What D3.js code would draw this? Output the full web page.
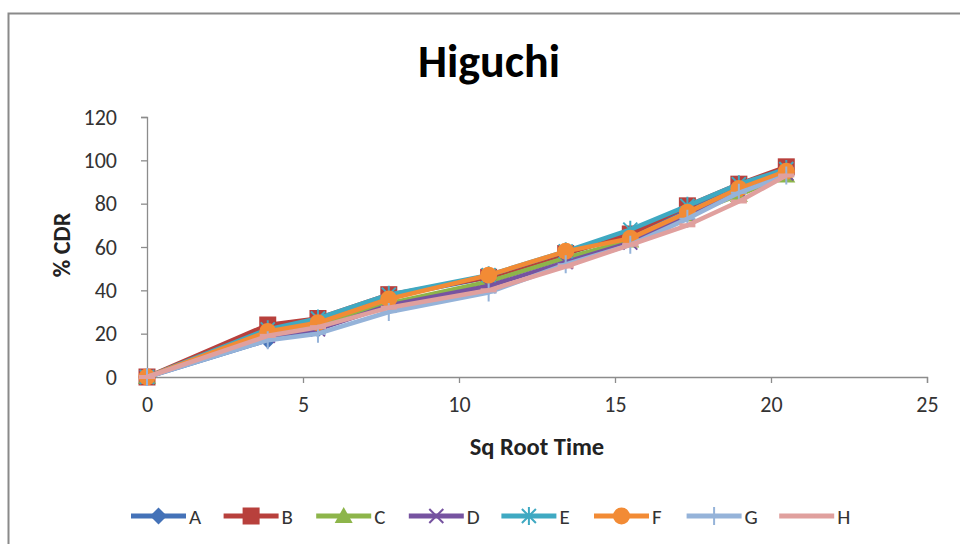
<!DOCTYPE html>
<html><head><meta charset="utf-8">
<script src="https://cdn.jsdelivr.net/npm/d3@7"></script>
<style>body{margin:0;background:#fff}svg{display:block}text{font-family:Carlito,Lato,"Liberation Sans",sans-serif}</style>
</head><body><svg id="c" width="960" height="544"></svg>
<script>
const xValues = [0, 3.87, 5.48, 7.75, 10.95, 13.42, 15.49, 17.32, 18.97, 20.49];
const seriesNames = ["A","B","C","D","E","F","G","H"];
const valsA = [0, 17, 22, 37, 46, 57, 66, 78, 89, 96];
const valsB = [0, 24, 27, 38, 46, 57, 66, 79, 89, 97];
const valsC = [0, 21, 24, 34, 44, 55, 63, 75, 84, 93];
const valsD = [0, 19, 22, 33, 42, 53, 62, 75, 86, 94];
const valsE = [0, 22, 27, 38, 47, 58, 68, 79, 89, 96];
const valsF = [0, 21, 25, 36, 47, 58, 64, 76, 87, 95];
const valsG = [0, 17, 20, 30, 39, 52, 61, 73, 85, 93];
const valsH = [0, 19, 23, 32, 40, 51, 61, 70, 81, 93];
const xTicks = [0, 5, 10, 15, 20, 25];
const yTicks = [0, 20, 40, 60, 80, 100, 120];
const colors = ["#4472B8","#B8403C","#8DB54A","#7653A0","#3FA9C2","#F28B35","#95B3D9","#E0A09E"];
const markers = ["diamond","square","triangle","x","star","circle","plus","dash"];
const allVals = [valsA,valsB,valsC,valsD,valsE,valsF,valsG,valsH];

const svg = d3.select("#c");
svg.append("path").attr("d","M8.5,544 L8.5,13.5 L960,13.5").attr("fill","none").attr("stroke","#8a8a8a").attr("stroke-width",2);

const x = d3.scaleLinear().domain([0,25]).range([147,927]);
const y = d3.scaleLinear().domain([0,120]).range([377,117]);

const axColor = "#8c8c8c";
const gx = svg.append("g").attr("transform","translate(0,377)")
  .call(d3.axisBottom(x).tickValues(xTicks).tickSize(6).tickPadding(8).tickFormat(d3.format("d")));
const gy = svg.append("g").attr("transform","translate(147,0)")
  .call(d3.axisLeft(y).tickValues(yTicks).tickSize(6).tickPadding(24).tickFormat(d3.format("d")));
[gx,gy].forEach(g=>{
  g.select(".domain").attr("stroke",axColor).attr("stroke-width",1.3);
  g.selectAll(".tick line").attr("stroke",axColor).attr("stroke-width",1.3);
  g.selectAll(".tick text").attr("fill","#333").style("font-size","22px");
});
gx.selectAll(".tick text").attr("dy","0.95em");
gy.selectAll(".tick text").attr("dx","0");

svg.append("text").attr("x",489).attr("y",77).attr("text-anchor","middle")
  .style("font-size","46px").style("font-weight","bold").attr("fill","#000").text("Higuchi");
svg.append("text").attr("x",537).attr("y",455).attr("text-anchor","middle")
  .style("font-size","24.5px").style("font-weight","bold").attr("fill","#222").text("Sq Root Time");
svg.append("text").attr("transform","translate(70,245) rotate(-90)").attr("text-anchor","middle")
  .style("font-size","24px").style("font-weight","bold").attr("fill","#222").text("% CDR");

function drawMarker(g, type, cx, cy, color){
  const s = 8.5;
  if(type==="diamond"){
    g.append("path").attr("d",`M${cx},${cy-s} L${cx+s},${cy} L${cx},${cy+s} L${cx-s},${cy} Z`).attr("fill",color);
  } else if(type==="square"){
    g.append("rect").attr("x",cx-8.5).attr("y",cy-8.5).attr("width",17).attr("height",17).attr("fill",color);
  } else if(type==="triangle"){
    g.append("path").attr("d",`M${cx},${cy-9} L${cx+9},${cy+7} L${cx-9},${cy+7} Z`).attr("fill",color);
  } else if(type==="x"){
    g.append("path").attr("d",`M${cx-7},${cy-7} L${cx+7},${cy+7} M${cx-7},${cy+7} L${cx+7},${cy-7}`).attr("stroke",color).attr("stroke-width",2);
  } else if(type==="star"){
    g.append("path").attr("d",`M${cx-7},${cy-7} L${cx+7},${cy+7} M${cx-7},${cy+7} L${cx+7},${cy-7} M${cx},${cy-9} L${cx},${cy+9}`).attr("stroke",color).attr("stroke-width",2);
  } else if(type==="circle"){
    g.append("circle").attr("cx",cx).attr("cy",cy).attr("r",8.5).attr("fill",color);
  } else if(type==="plus"){
    g.append("path").attr("d",`M${cx-8},${cy} L${cx+8},${cy} M${cx},${cy-9} L${cx},${cy+9}`).attr("stroke",color).attr("stroke-width",2);
  } else if(type==="dash"){
    g.append("path").attr("d",`M${cx-8},${cy} L${cx+8},${cy}`).attr("stroke",color).attr("stroke-width",4);
  }
}

const line = d3.line().x(d=>x(d[0])).y(d=>y(d[1]));
allVals.forEach((vals,i)=>{
  const g = svg.append("g");
  const pts = xValues.map((xv,j)=>[xv, vals[j]]);
  g.append("path").datum(pts).attr("d",line).attr("fill","none").attr("stroke",colors[i]).attr("stroke-width",4.5).attr("stroke-linejoin","round");
  pts.forEach(p=>drawMarker(g, markers[i], x(p[0]), y(p[1]), colors[i]));
});

const lg = svg.append("g");
seriesNames.forEach((n,i)=>{
  const lx = 131 + i*92.6;
  const g = lg.append("g");
  g.append("line").attr("x1",lx).attr("x2",lx+55).attr("y1",516).attr("y2",516).attr("stroke",colors[i]).attr("stroke-width",5);
  drawMarker(g, markers[i], lx+27.5, 516, colors[i]);
  g.append("text").attr("x",lx+58).attr("y",524).style("font-size","21px").attr("fill","#333").text(n);
});
</script></body></html>
